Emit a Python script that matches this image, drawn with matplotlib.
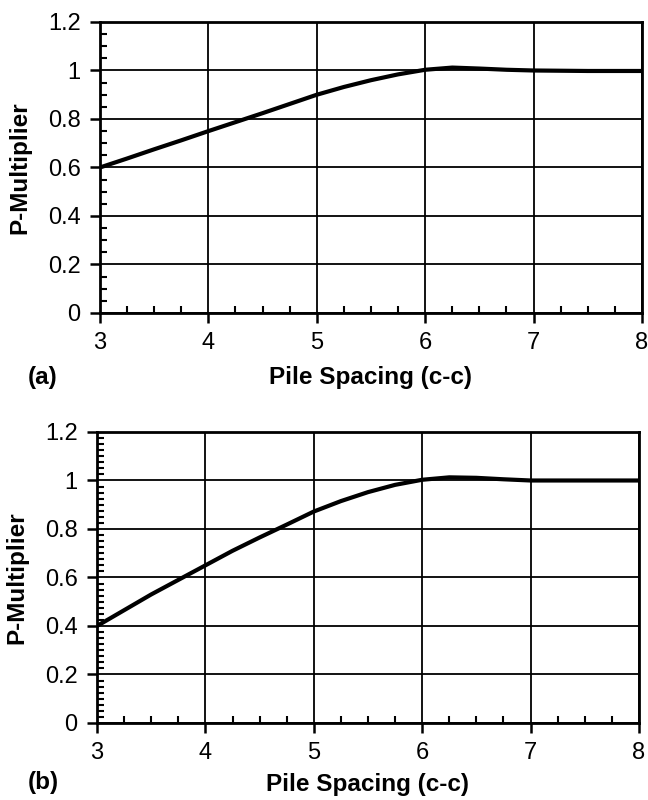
import matplotlib
matplotlib.use("Agg")
import matplotlib.pyplot as plt
from matplotlib.ticker import MultipleLocator

plt.rcParams['font.family'] = ['Liberation Sans', 'DejaVu Sans']

# Pile spacing (centre-to-centre, in pile diameters)
spacing = [3.0, 3.25, 3.5, 3.75, 4.0, 4.25, 4.5, 4.75, 5.0, 5.25, 5.5, 5.75,
           6.0, 6.25, 6.5, 6.75, 7.0, 7.5, 8.0]

# (a) p-multiplier vs spacing
pm_a = [0.60, 0.637, 0.675, 0.712, 0.75, 0.787, 0.824, 0.862, 0.90, 0.932,
        0.960, 0.984, 1.003, 1.012, 1.008, 1.003, 1.0, 0.998, 0.998]

# (b) p-multiplier vs spacing
pm_b = [0.40, 0.465, 0.53, 0.59, 0.65, 0.71, 0.765, 0.818, 0.872, 0.915,
        0.952, 0.982, 1.003, 1.013, 1.011, 1.005, 1.0, 1.0, 1.0]

x_ticks = [3, 4, 5, 6, 7, 8]
y_ticks = [0, 0.2, 0.4, 0.6, 0.8, 1.0, 1.2]
y_labels = ['0', '0.2', '0.4', '0.6', '0.8', '1', '1.2']

fig = plt.figure(figsize=(6.48, 8.0), dpi=100)

panels = [
    ([0.1543, 0.6088, 0.8364, 0.3637], pm_a, '(a)', 0.05, -0.134, -0.222, 8),
    ([0.1497, 0.0963, 0.8364, 0.3637], pm_b, '(b)', 0.025, -0.128, -0.205, 6),
]

for rect, values, tag, yminor, tag_x, tag_y, xlpad in panels:
    ax = fig.add_axes(rect)
    ax.plot(spacing, values, color='black', lw=3.0, solid_capstyle='round',
            solid_joinstyle='round', zorder=3)
    ax.set_xlim(3, 8)
    ax.set_ylim(0, 1.2)
    ax.set_xticks(x_ticks)
    ax.set_yticks(y_ticks)
    ax.set_yticklabels(y_labels)
    ax.xaxis.set_minor_locator(MultipleLocator(0.25))
    ax.yaxis.set_minor_locator(MultipleLocator(yminor))
    ax.grid(True, which='major', color='black', lw=1.3)
    for s in ax.spines.values():
        s.set_linewidth(2.0)
    ax.tick_params(axis='both', which='major', direction='out', length=7,
                   width=1.8, labelsize=17, pad=7, colors='black')
    ax.tick_params(axis='both', which='minor', direction='in', length=5,
                   width=1.5)
    ax.set_xlabel('Pile Spacing (c-c)', fontsize=17.5, fontweight='bold',
                  labelpad=xlpad)
    ax.set_ylabel('P-Multiplier', fontsize=17.5, fontweight='bold',
                  labelpad=12)
    ax.text(tag_x, tag_y, tag, transform=ax.transAxes, fontsize=17.5,
            fontweight='bold', ha='left', va='center')

fig.savefig('out.png', dpi=100, facecolor='white')
